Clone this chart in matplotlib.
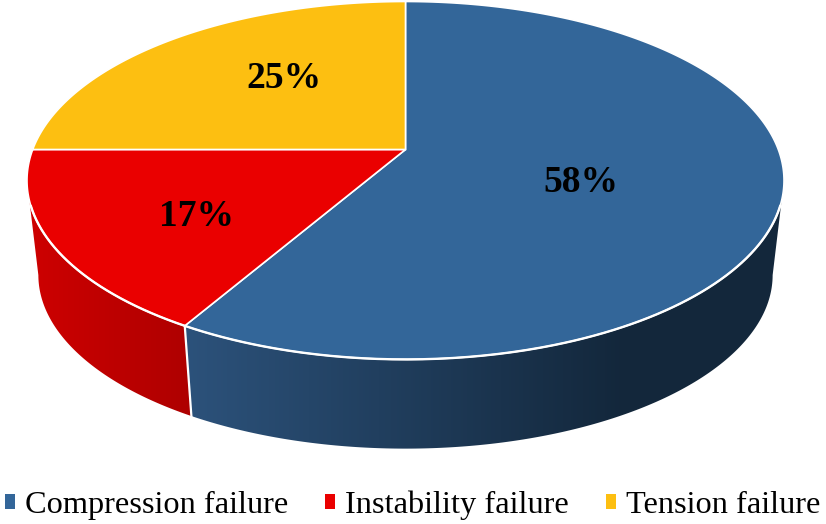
#!/usr/bin/env python3

import matplotlib
matplotlib.use('Agg')
import matplotlib.pyplot as plt
import numpy as np
from matplotlib.colors import LinearSegmentedColormap
from matplotlib.patches import Patch, Polygon

names = ['Compression failure', 'Instability failure', 'Tension failure']
values = [58.4, 16.6, 25.0]
colors = ['#336699', '#EA0000', '#FDBF11']
side_colors = [('#2C527B', '#13273B'), ('#CE0000', '#AE0000'), None]
label_pos = [(581, 183), (196, 216), (284, 79)]

plt.rcParams['font.family'] = ['Liberation Serif', 'DejaVu Serif']

# tilted disc seen in perspective, angles in degrees, pixel coordinates
k = 0.173
top = dict(a=372.8, b=173.6, cy=149.5)
bot = dict(a=361.6, b=168.4, cy=245.0)
cx = 405.5


def rim(t, a, b, cy):
  t = np.radians(t)
  w = 1 + k * np.sin(t)
  return cx + a * np.cos(t) / w, cy - b * np.sin(t) / w


fig = plt.figure(figsize=(8.26, 5.24), dpi=100)
ax = fig.add_axes([0, 0, 1, 1])

# slices run clockwise from the top of the disc
edges = 90 - np.cumsum([0] + values) * 3.6
front = (-170, -10)

for i in range(len(values)):
  if side_colors[i] is None:
    continue
  lo = max(edges[i + 1], front[0])
  hi = min(edges[i], front[1])
  t = np.linspace(lo, hi, 200)
  xt, yt = rim(t, **top)
  xb, yb = rim(t, **bot)
  pts = np.r_[np.c_[xt, yt], np.c_[xb, yb][::-1]]
  poly = Polygon(pts, closed=True, fc='none', ec='none', transform=ax.transData)
  ax.add_patch(poly)
  cmap = LinearSegmentedColormap.from_list('side', side_colors[i])
  x0, x1 = pts[:, 0].min(), pts[:, 0].max()
  span = min(x1, x0 + 440) - x0
  grad = np.clip((np.linspace(x0, x1, 300) - x0) / span, 0, 1)[None, :]
  im = ax.imshow(grad, cmap=cmap, vmin=0, vmax=1, aspect='auto',
                 extent=(x0, x1, pts[:, 1].max(), pts[:, 1].min()), zorder=1)
  im.set_clip_path(poly)

# white seam between the two side walls
xs, ys = rim(edges[1], **top)
xe, ye = rim(edges[1], **bot)
ax.plot([xs, xe], [ys, ye], color='white', lw=1.6, zorder=2)

for i in range(len(values)):
  t = np.linspace(edges[i], edges[i + 1], 300)
  x, y = rim(t, **top)
  ax.fill(np.r_[cx, x], np.r_[top['cy'], y], facecolor=colors[i],
          edgecolor='white', linewidth=1.2, zorder=3)
  ax.text(label_pos[i][0], label_pos[i][1], f'{values[i]:.0f}%', fontsize=27,
          fontweight='bold', color='black', ha='center', va='center', zorder=5)

# front rim carries a heavier white line
xr, yr = rim(np.linspace(-162, -18, 300), **top)
ax.plot(xr, yr, color='white', lw=1.7, zorder=4)

handles = [Patch(facecolor=c, edgecolor='none') for c in colors]
ax.legend(handles, names, loc='lower left', bbox_to_anchor=(5 / 826, 4 / 524), ncol=3,
          frameon=False, fontsize=23.3, handlelength=0.31, handleheight=0.31,
          handletextpad=0.31, columnspacing=1.14, borderpad=0, borderaxespad=0)

ax.set_xlim(0, 826)
ax.set_ylim(524, 0)
ax.axis('off')

fig.savefig('out.png', dpi=100)
